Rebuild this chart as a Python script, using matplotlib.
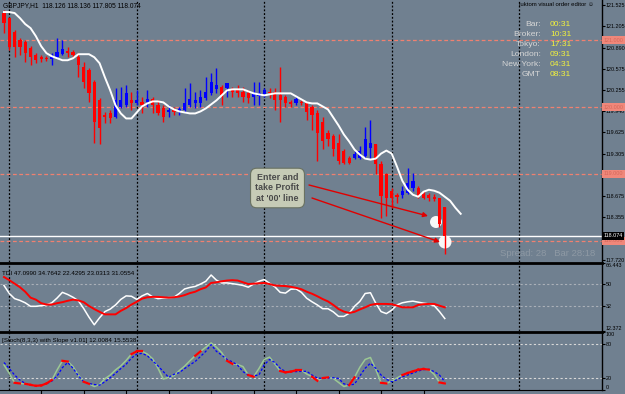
import matplotlib.pyplot as plt
from matplotlib.patches import Circle
from matplotlib.transforms import IdentityTransform

plt.rcParams["font.family"] = ["Liberation Sans", "DejaVu Sans"]

BG = "#708090"

# GBPJPY H1 candles
opens = [121.405, 121.33, 121.12, 121.0, 120.97, 120.88, 120.775, 120.745, 120.73, 120.715,
         120.745, 120.79, 120.835, 120.82, 120.745, 120.595, 120.55, 120.37, 120.10, 119.875,
         119.905, 119.845, 119.995, 120.025, 120.10, 120.055, 120.07, 120.07, 120.115, 120.025,
         119.98, 119.92, 119.95, 119.92, 119.95, 120.025, 120.055, 120.055, 120.13, 120.205,
         120.265, 120.295, 120.28, 120.25, 120.25, 120.22, 120.205, 120.145, 120.16, 120.19,
         120.22, 120.22, 120.175, 120.145, 120.07, 120.055, 120.07, 120.055, 119.995, 119.905,
         119.77, 119.62, 119.575, 119.47, 119.35, 119.245, 119.245, 119.245, 119.275, 119.395,
         119.455, 119.155, 119.005, 118.75, 118.69, 118.69, 118.72, 118.795, 118.795, 118.705,
         118.69, 118.66, 118.645, 118.51]
highs = [121.45, 121.345, 121.15, 121.03, 121.0, 120.91, 120.805, 120.775, 120.76, 120.805,
         121.03, 121.0, 120.895, 120.85, 120.805, 120.67, 120.58, 120.40, 120.13, 119.92,
         119.95, 120.28, 120.295, 120.325, 120.22, 120.25, 120.145, 120.25, 120.145, 120.10,
         120.025, 120.025, 120.0, 120.0, 120.28, 120.355, 120.22, 120.25, 120.445, 120.505,
         120.58, 120.325, 120.355, 120.295, 120.325, 120.295, 120.25, 120.37, 120.37, 120.28,
         120.28, 120.28, 120.595, 120.175, 120.10, 120.145, 120.10, 120.07, 120.025, 119.95,
         119.845, 119.65, 119.605, 119.605, 119.38, 119.275, 119.35, 119.425, 119.695, 119.80,
         119.455, 119.20, 119.02, 118.795, 118.72, 118.825, 119.095, 119.02, 118.825, 118.75,
         118.72, 118.705, 118.645, 118.51]
lows = [121.105, 120.85, 120.745, 120.775, 120.67, 120.625, 120.655, 120.67, 120.685, 120.625,
        120.73, 120.775, 120.745, 120.73, 120.445, 120.28, 120.07, 119.47, 119.455, 119.755,
        119.755, 119.83, 119.98, 119.995, 119.95, 120.025, 119.905, 119.995, 119.905, 119.875,
        119.77, 119.845, 119.875, 119.875, 119.92, 119.995, 119.98, 119.995, 120.10, 120.175,
        120.205, 120.025, 120.145, 120.145, 120.145, 120.07, 120.055, 120.025, 120.025, 120.145,
        120.13, 119.95, 119.77, 119.995, 119.995, 120.025, 120.025, 119.80, 119.65, 119.20,
        119.38, 119.425, 119.275, 119.155, 119.155, 119.155, 119.23, 119.23, 119.245, 119.245,
        119.005, 118.345, 118.375, 118.495, 118.57, 118.645, 118.705, 118.75, 118.645, 118.63,
        118.60, 118.60, 118.21, 117.805]
closes = [121.255, 120.895, 120.895, 120.895, 120.805, 120.745, 120.70, 120.715, 120.715, 120.745,
          120.82, 120.865, 120.805, 120.775, 120.625, 120.37, 120.205, 119.77, 119.68, 119.845,
          119.83, 120.10, 120.10, 120.205, 120.055, 120.10, 120.025, 120.115, 120.025, 119.905,
          119.845, 119.95, 119.92, 119.965, 120.055, 120.115, 120.10, 120.145, 120.22, 120.37,
          120.325, 120.175, 120.355, 120.22, 120.205, 120.145, 120.13, 120.205, 120.205, 120.25,
          120.205, 120.10, 120.10, 120.055, 120.04, 120.115, 120.055, 119.92, 119.875, 119.62,
          119.50, 119.53, 119.38, 119.20, 119.17, 119.17, 119.305, 119.35, 119.53, 119.47,
          119.155, 118.675, 118.645, 118.645, 118.66, 118.75, 118.87, 118.90, 118.675, 118.645,
          118.645, 118.63, 118.255, 118.074]

# shifted moving average (runs 3 bars past the last candle)
ma_line = [121.42, 121.42, 121.405, 121.33, 121.24, 121.18, 121.06, 120.91, 120.805, 120.76,
           120.73, 120.70, 120.70, 120.73, 120.79, 120.79, 120.79, 120.745, 120.655, 120.445,
           120.25, 120.025, 119.905, 119.83, 119.83, 119.92, 120.01, 120.055, 120.085, 120.085,
           120.07, 120.01, 119.965, 119.935, 119.92, 119.905, 119.905, 119.935, 119.98, 120.04,
           120.10, 120.175, 120.25, 120.265, 120.265, 120.265, 120.235, 120.205, 120.19, 120.175,
           120.19, 120.205, 120.205, 120.205, 120.205, 120.16, 120.115, 120.07, 120.055, 120.055,
           120.01, 119.965, 119.845, 119.725, 119.59, 119.485, 119.365, 119.29, 119.23, 119.215,
           119.23, 119.305, 119.35, 119.305, 119.11, 118.90, 118.765, 118.69, 118.66, 118.735,
           118.765, 118.75, 118.72, 118.66, 118.60, 118.495, 118.405]

# TDI: price line (white) and signal line (red)
tdi_price = [48.6, 42.2, 38.1, 36.7, 34.8, 32.0, 32.0, 32.5, 33.1, 34.8,
             38.6, 43.1, 41.4, 39.2, 36.4, 30.3, 23.4, 17.3, 22.9, 27.8,
             29.8, 33.1, 37.5, 40.3, 40.0, 37.5, 40.3, 42.2, 39.5, 38.1,
             38.6, 38.9, 39.2, 42.2, 45.8, 47.0, 47.8, 49.7, 51.9, 56.9,
             52.8, 50.6, 50.6, 50.0, 49.4, 48.6, 47.2, 49.7, 51.9, 53.3,
             50.3, 47.5, 43.1, 42.5, 45.6, 45.8, 43.1, 38.4, 35.6, 33.1,
             30.1, 30.1, 27.6, 24.0, 24.0, 26.5, 32.0, 35.9, 42.2, 42.8,
             34.5, 27.8, 26.2, 28.9, 33.1, 34.8, 35.6, 36.1, 35.3, 34.5,
             33.9, 32.5, 27.8, 22.3]
tdi_signal = [55.3, 52.8, 50.0, 47.2, 43.6, 38.9, 37.3, 34.5, 33.4, 33.4,
              34.5, 35.3, 36.4, 37.3, 36.7, 35.3, 32.3, 29.8, 27.6, 25.6,
              25.6, 25.6, 28.4, 30.6, 33.4, 35.6, 38.1, 39.2, 39.5, 39.5,
              39.2, 38.9, 39.2, 39.8, 40.9, 42.5, 43.6, 45.6, 47.0, 50.6,
              51.1, 51.9, 52.5, 52.8, 52.5, 51.1, 49.7, 50.0, 50.3, 50.6,
              49.7, 48.6, 48.3, 48.1, 47.5, 46.7, 45.6, 43.6, 42.0, 40.0,
              37.8, 35.9, 33.1, 29.8, 27.8, 26.7, 27.6, 29.5, 31.2, 33.1,
              33.9, 33.9, 33.9, 33.7, 32.5, 31.2, 31.2, 31.2, 33.1, 33.7,
              33.9, 33.9, 32.5, 31.2]

# Stochastic (8,3,3) main and signal
stoch_main = [43.3, 28.7, 12.4, 11.3, 10.7, 8.9, 7.2, 7.8, 11.3, 17.1,
              34.6, 50.3, 49.1, 40.4, 25.8, 14.2, 10.7, 6.0, 9.5, 19.4,
              25.8, 34.6, 41.6, 50.9, 61.9, 66.6, 66.6, 61.9, 53.8, 37.5,
              18.8, 21.8, 24.7, 33.4, 41.0, 50.3, 59.0, 66.6, 73.6, 81.2,
              73.6, 64.3, 50.3, 45.1, 43.9, 40.4, 25.8, 22.9, 36.9, 52.6,
              56.7, 45.1, 32.8, 30.5, 31.7, 34.0, 34.0, 27.6, 22.9, 15.9,
              20.6, 21.8, 20.0, 13.0, 6.0, 8.4, 21.8, 39.2, 52.6, 56.1,
              35.7, 12.4, 11.3, 15.3, 20.6, 25.8, 29.3, 32.2, 35.1, 36.3,
              35.1, 27.0, 13.0, 11.3]
stoch_signal = [47.4, 36.9, 25.8, 17.1, 11.3, 8.4, 7.2, 8.4, 10.7, 15.3,
                24.1, 38.6, 47.4, 37.5, 24.7, 14.2, 11.3, 9.5, 8.4, 14.2,
                21.2, 28.7, 36.9, 44.5, 55.0, 61.9, 63.1, 59.0, 50.3, 41.6,
                31.7, 21.8, 27.0, 29.9, 36.9, 43.3, 49.1, 57.9, 66.6, 78.3,
                66.6, 60.2, 52.6, 48.5, 42.7, 31.7, 25.8, 24.7, 25.8, 43.3,
                52.6, 47.4, 37.5, 31.7, 31.7, 31.7, 32.2, 32.2, 25.8, 20.6,
                20.0, 20.6, 21.2, 20.0, 10.7, 8.4, 10.1, 24.1, 37.5, 46.2,
                37.5, 25.8, 18.3, 14.2, 17.7, 22.9, 25.8, 29.3, 32.8, 35.1,
                35.7, 31.7, 25.8, 14.2]
# bars where the "slope" segment of the main line turns red
stoch_red = [2, 4, 5, 6, 7, 8, 11, 15, 24, 25, 36, 42, 46, 52, 53, 54, 55,
             58, 60, 65, 71, 75, 76, 77, 78, 79, 82]

day_breaks = [1, 25, 49, 73, 97]
price_ticks = [121.525, 121.205, 120.890, 120.575, 120.255, 119.940, 119.625,
               119.305, 118.675, 118.355, 117.720]
round_levels = [121.0, 120.0, 119.0, 118.0]
bid = 118.074

clock_names = ["Bar:", "Broker:", "Tokyo:", "London:", "New York:", "GMT"]
clock_times = ["00:31", "10:31", "17:31", "09:31", "04:31", "08:31"]

W, H = 625, 394
LBL = 3.9  # right-scale font size
fig = plt.figure(figsize=(W / 100, H / 100), dpi=100, facecolor=BG)

ax = fig.add_axes([0, 1 - 262 / H, 602 / W, 262 / H], facecolor=BG)
ax_tdi = fig.add_axes([0, 1 - 331 / H, 602 / W, 68 / H], facecolor=BG)
ax_st = fig.add_axes([0, 1 - 390 / H, 602 / W, 58 / H], facecolor=BG)

for a in (ax, ax_tdi, ax_st):
    a.set_xlim(-0.75, 112.6)
    for s in ("left", "top", "bottom"):
        a.spines[s].set_visible(False)
    a.spines["right"].set_color("black")
    a.spines["right"].set_linewidth(1)
    a.yaxis.tick_right()
    a.tick_params(axis="y", labelsize=LBL, length=2, pad=0.8, colors="black")
    a.tick_params(axis="x", bottom=False, labelbottom=False)
    for d in day_breaks:
        a.axvline(d, color="black", lw=0.9, ls=(0, (1.5, 1.5)), zorder=1)

ax_tdi.spines["top"].set_visible(True)
ax_tdi.spines["top"].set_linewidth(2)
ax_st.spines["top"].set_visible(True)
ax_st.spines["top"].set_linewidth(2)
ax_st.spines["bottom"].set_visible(True)
ax_st.spines["bottom"].set_linewidth(0.8)

# ---- main price panel
ax.set_ylim(117.685, 121.6)
ax.set_yticks(price_ticks)
ax.set_yticklabels([f"{p:.3f}" for p in price_ticks])

for lvl in round_levels:
    ax.axhline(lvl, color="#f08070", lw=0.9, ls=(0, (3, 2)), zorder=1)
    ax.text(1.003, lvl, f"{lvl:.3f}", transform=ax.get_yaxis_transform(),
            fontsize=LBL, color="#d4685a", va="center", ha="left", clip_on=False,
            zorder=6, bbox=dict(boxstyle="square,pad=0.3", fc="#f0877a", ec="none"))
ax.axhline(bid, color="white", lw=1, zorder=2)
ax.text(1.003, bid, f"{bid:.3f}", transform=ax.get_yaxis_transform(),
        fontsize=LBL, color="white", va="center", ha="left", clip_on=False,
        zorder=7, bbox=dict(boxstyle="square,pad=0.25", fc="black", ec="none"))

for i in range(len(opens)):
    col = "#0000ff" if closes[i] >= opens[i] else "#ff0000"
    ax.vlines(i, lows[i], highs[i], color=col, lw=1, zorder=3)
    lo = min(opens[i], closes[i])
    h = max(abs(closes[i] - opens[i]), 0.012)
    ax.bar(i, h, bottom=lo, width=0.6, color=col, zorder=3)

ax.plot(range(len(ma_line)), ma_line, color="white", lw=1.4, zorder=4)

# white circles round the entry / target points
ax.add_artist(Circle((436, H - 222), 6, transform=IdentityTransform(),
                     fc="white", ec="none", alpha=0.95, zorder=2.5))
ax.add_artist(Circle((445, H - 242), 6.5, transform=IdentityTransform(),
                     fc="white", ec="none", alpha=0.95, zorder=2.5))

for start, end in [((309, H - 185), (428, H - 216)), ((312, H - 198), (440, H - 242))]:
    ax.annotate("", xy=end, xytext=start, xycoords="figure pixels",
                textcoords="figure pixels",
                arrowprops=dict(arrowstyle="-|>", color="#e00000", lw=1,
                                mutation_scale=7, shrinkA=0, shrinkB=0), zorder=8)

fig.text(277.5 / W, 1 - 188 / H, "Enter and\ntake Profit\nat '00' line",
         fontsize=6.4, fontweight="bold", color="#4a4a4a", ha="center", va="center",
         linespacing=1.2,
         bbox=dict(boxstyle="round,pad=0.55,rounding_size=0.7", fc="#c6cbb6",
                   ec="#6a7262", lw=0.8))

# texts on the main panel
fig.text(3 / W, 1 - 6 / H, "GBPJPY,H1  118.126 118.136 117.805 118.074",
         fontsize=4.8, color="black", va="center")
fig.text(519 / W, 1 - 5 / H, "luktom visual order editor \u263a",
         fontsize=4.3, color="black", va="center")
for k, (name, t) in enumerate(zip(clock_names, clock_times)):
    y = 1 - (24 + 10 * k) / H
    fig.text(541 / W, y, name, fontsize=6.1, color="#d6d6d6", ha="right", va="center")
    fig.text(550 / W, y, t, fontsize=6.1, color="#f2f23c", ha="left", va="center")
fig.text(500 / W, 1 - 254 / H, "Spread: 28   Bar 28:18", fontsize=6.8,
         color="#8e99a4", va="center")

# ---- TDI panel
ax_tdi.set_ylim(12.372, 66.443)
ax_tdi.set_yticks([12.372, 32, 50, 66.443])
ax_tdi.set_yticklabels(["12.372", "32", "50", "66.443"])
labs = ax_tdi.get_yticklabels()
labs[0].set_va("bottom")
labs[3].set_va("top")
for lvl in (32, 50):
    ax_tdi.axhline(lvl, color="#aab0b8", lw=0.8, ls=(0, (2, 2)), zorder=1)
ax_tdi.plot(range(len(tdi_price)), tdi_price, color="white", lw=1.1, zorder=3)
ax_tdi.plot(range(len(tdi_signal)), tdi_signal, color="#ff0000", lw=1.4, zorder=4)
ax_tdi.text(0.004, 0.84, "TDI 47.0990 34.7642 22.4295 23.0313 31.0554",
            transform=ax_tdi.transAxes, fontsize=4.5, color="black", va="center")

# ---- Stochastic panel
ax_st.set_ylim(0, 100)
ax_st.set_yticks([0, 20, 80, 100])
ax_st.set_yticklabels(["0", "20", "80", "100"])
labs = ax_st.get_yticklabels()
labs[0].set_va("bottom")
labs[3].set_va("top")
for lvl in (20, 80):
    ax_st.axhline(lvl, color="#d8d8d8", lw=0.8, ls=(0, (2, 2)), zorder=1)
ax_st.plot(range(len(stoch_main)), stoch_main, color="#9cc894", lw=1.1, zorder=3)
ax_st.plot(range(len(stoch_signal)), stoch_signal, color="#0000ff", lw=0.9,
           ls=(0, (2, 1.5)), zorder=4)
for i in stoch_red:
    ax_st.plot([i, i + 1], [stoch_main[i], stoch_main[i + 1]], color="#ff0000",
               lw=1.6, zorder=5)
ax_st.text(0.004, 0.85, "[Stoch(8,3,3) with Slope v1.01] 12.0084 15.5538",
           transform=ax_st.transAxes, fontsize=4.5, color="black", va="center")
ax_st.set_xticks(range(7, 84, 8))
ax_st.tick_params(axis="x", bottom=True, length=3, width=0.8, color="black",
                  labelbottom=False)

fig.savefig("out.png", dpi=100, facecolor=BG)
